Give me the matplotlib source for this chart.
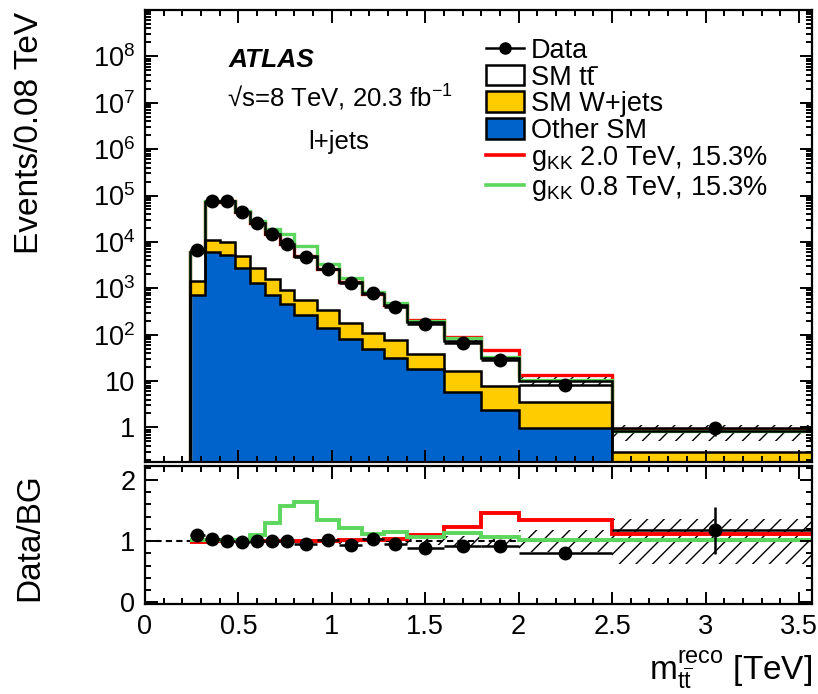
import matplotlib
matplotlib.use("Agg")
import matplotlib.pyplot as plt
import numpy as np
from matplotlib.patches import Patch
from matplotlib.lines import Line2D
from matplotlib.ticker import FixedLocator, LogLocator, MultipleLocator, NullFormatter, FuncFormatter

plt.rcParams['font.family'] = ['Liberation Sans', 'DejaVu Sans']
plt.rcParams['mathtext.fontset'] = 'custom'
plt.rcParams['mathtext.rm'] = 'Liberation Sans'
plt.rcParams['mathtext.it'] = 'Liberation Sans:italic'
plt.rcParams['mathtext.bf'] = 'Liberation Sans:bold'
plt.rcParams['hatch.linewidth'] = 1.0

# bin edges in TeV
edges = np.array([0.24, 0.32, 0.40, 0.48, 0.56, 0.64, 0.72, 0.80, 0.92, 1.04,
                  1.16, 1.28, 1.40, 1.60, 1.80, 2.00, 2.50, 3.60])

# events / 0.08 TeV
data = np.array([6700, 76000, 74500, 44000, 25200, 14800, 9200, 4750, 2600, 1270,
                 780, 405, 167, 67, 29, 8.2, 0.98])
data_err = np.array([134, 760, 745, 440, 252, 148, 138, 71, 52, 38,
                     23, 16, 8.4, 4.0, 2.0, 0.66, 0.32])
other_sm = np.array([710, 6100, 5200, 2700, 1320, 710, 470, 272, 139, 82,
                     50, 31.5, 17.8, 5.8, 2.4, 0.95, 0.05])
wjets = np.array([710, 4900, 4800, 2200, 1380, 840, 440, 278, 196, 98,
                  59, 46.5, 21.2, 10.7, 5.6, 2.65, 0.24])
ttbar = np.array([4670, 62800, 64500, 39500, 22500, 13250, 8290, 4450, 2215, 1185,
                  641, 348, 150, 56.3, 23.5, 6.65, 0.54])
bg_unc = np.array([0.03, 0.03, 0.03, 0.03, 0.03, 0.03, 0.03, 0.04, 0.04, 0.04,
                   0.05, 0.05, 0.06, 0.08, 0.10, 0.18, 0.37])

# (BG + signal) / BG
gkk20 = np.array([0.99, 1.0, 1.0, 1.0, 1.0, 1.0, 1.0, 1.0, 1.0, 1.01,
                  1.02, 1.04, 1.10, 1.23, 1.46, 1.34, 1.12])
gkk08 = np.array([1.02, 1.02, 1.02, 1.02, 1.10, 1.30, 1.58, 1.64, 1.34, 1.21,
                  1.11, 1.15, 1.07, 1.14, 1.07, 1.01, 1.01])

blue = '#0063CC'
yellow = '#FFCC00'
red = '#FF0000'
green = '#5CD65C'

centers = 0.5 * (edges[1:] + edges[:-1])
halfw = 0.5 * np.diff(edges)
yel_top = other_sm + wjets
total = yel_top + ttbar
base = 1e-3

fig = plt.figure(figsize=(8.18, 6.94), dpi=100)
ax = fig.add_axes([145/818, 1-462/694, 667/818, 452/694])
rax = fig.add_axes([145/818, 1-604/694, 667/818, 138/694])

# top panel: stacked backgrounds
ax.stairs(total, edges, baseline=base, fill=True, color='white', zorder=1)
ax.stairs(yel_top, edges, baseline=base, fill=True, color=yellow, zorder=1)
ax.stairs(other_sm, edges, baseline=base, fill=True, color=blue, zorder=1)
ax.stairs(total * (1 + bg_unc), edges, baseline=total * (1 - bg_unc), fill=True,
          hatch='//', facecolor='none', edgecolor='k', lw=0, zorder=1.2)
ax.stairs(total * gkk20, edges, baseline=base, color=red, lw=2.4, zorder=1.5)
ax.stairs(total * gkk08, edges, baseline=base, color=green, lw=2.4, zorder=1.5)
for v in (total, yel_top, other_sm):
    ax.stairs(v, edges, baseline=base, color='k', lw=1.8, zorder=1.8)
ax.errorbar(centers, data, yerr=data_err, xerr=halfw, fmt='o', color='k',
            ms=9, lw=1.8, capsize=0, zorder=3)

ax.set_yscale('log')
ax.set_ylim(0.18, 1e9)
ax.set_xlim(0, 3.57)
ax.yaxis.set_major_locator(FixedLocator(10.0 ** np.arange(0, 9)))
ax.yaxis.set_minor_locator(LogLocator(base=10, subs=np.arange(2, 10), numticks=30))
ax.yaxis.set_minor_formatter(NullFormatter())


def logfmt(v, pos):
    n = int(round(np.log10(v)))
    if n == 0:
        return '1'
    if n == 1:
        return '10'
    return r'$10^{%d}$' % n


ax.yaxis.set_major_formatter(FuncFormatter(logfmt))
ax.tick_params(labelbottom=False)

# ratio panel
rax.stairs(1 + bg_unc, edges, baseline=1 - bg_unc, fill=True, hatch='//',
           facecolor='none', edgecolor='k', lw=0, zorder=1)
rax.axhline(1, ls=(0, (3, 2)), color='k', lw=1.5, zorder=1.2)
rax.stairs(gkk20, edges, baseline=None, color=red, lw=2.8, zorder=1.5)
rax.stairs(gkk08, edges, baseline=None, color=green, lw=2.8, zorder=1.6)
rax.errorbar(centers, data / total, yerr=data_err / total, xerr=halfw, fmt='o',
             color='k', ms=9, lw=1.8, capsize=0, zorder=3)
rax.set_xlim(0, 3.57)
rax.set_ylim(-0.03, 2.23)
rax.yaxis.set_major_locator(FixedLocator([0, 1, 2]))
rax.yaxis.set_minor_locator(MultipleLocator(0.2))
rax.xaxis.set_major_locator(MultipleLocator(0.5))
rax.xaxis.set_minor_locator(MultipleLocator(0.1))
rax.xaxis.set_major_formatter(FuncFormatter(lambda v, p: '%g' % v))
ax.xaxis.set_major_locator(MultipleLocator(0.5))
ax.xaxis.set_minor_locator(MultipleLocator(0.1))

for a in (ax, rax):
    a.set_axisbelow(False)
    a.tick_params(which='both', direction='in', top=True, right=True, width=1.4,
                  labelsize=19.5, pad=7)
    a.tick_params(which='major', length=9)
    a.tick_params(which='minor', length=4.5)
    for s in a.spines.values():
        s.set_linewidth(1.6)
        s.set_zorder(4)

# legend
handles = [Line2D([], [], color='k', marker='o', ms=8, lw=1.8),
           Patch(facecolor='white', edgecolor='k', lw=1.8),
           Patch(facecolor=yellow, edgecolor='k', lw=1.8),
           Patch(facecolor=blue, edgecolor='k', lw=1.8),
           Line2D([], [], color=red, lw=2.6),
           Line2D([], [], color=green, lw=2.6)]
labels = ['Data', 'SM tt\u0304', 'SM W+jets', 'Other SM',
          r'$\mathrm{g_{KK}}$ 2.0 TeV, 15.3%', r'$\mathrm{g_{KK}}$ 0.8 TeV, 15.3%']
fig.legend(handles, labels, loc='upper left', bbox_to_anchor=(486/818, 1-38/694),
           frameon=False, fontsize=19.5, handlelength=1.4, handleheight=0.8,
           handletextpad=0.25, labelspacing=0.02, borderpad=0, borderaxespad=0)

ax.text(0.126, 0.889, 'ATLAS', transform=ax.transAxes, fontsize=19,
        fontweight='bold', fontstyle='italic', va='center')
ax.text(0.292, 0.805, '\u221as=8 TeV, 20.3 fb$^{-1}$', transform=ax.transAxes,
        fontsize=18.5, ha='center', va='center')
ax.text(0.291, 0.708, 'l+jets', transform=ax.transAxes, fontsize=18.5,
        ha='center', va='center')

fig.text(30/818, 1-12/694, 'Events/0.08 TeV', rotation=90, ha='center', va='top', fontsize=24)
fig.text(30/818, 1-473/694, 'Data/BG', rotation=90, ha='center', va='top', fontsize=24)
fig.text(812/818, 1-679/694, r'$\mathrm{m_{t\overline{t}}^{reco}}$ [TeV]', ha='right',
         va='baseline', fontsize=24)

fig.savefig('out.png', dpi=100)
